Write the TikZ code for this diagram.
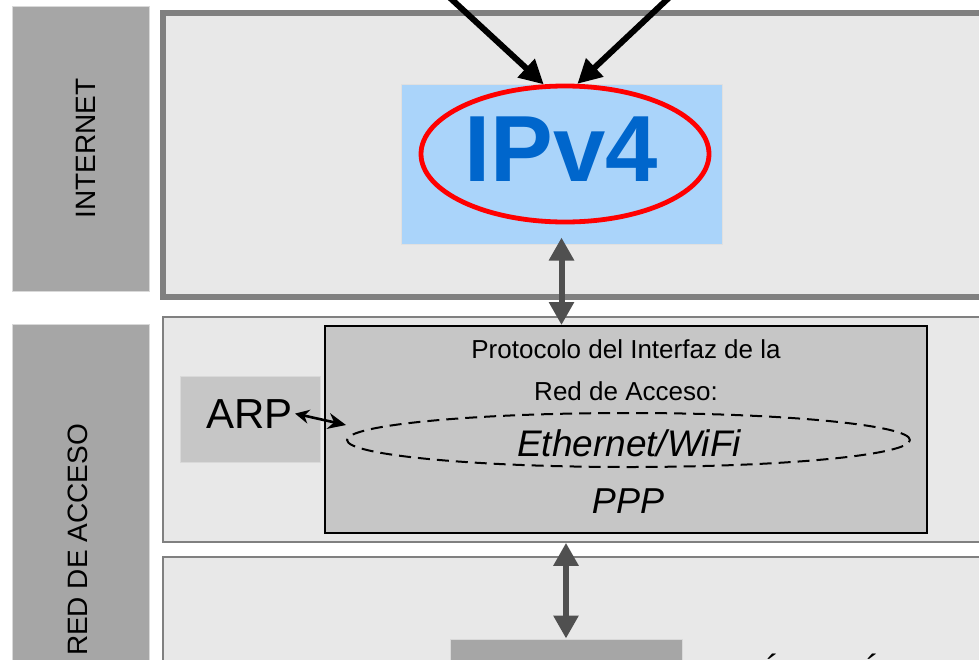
\documentclass[tikz,border=0pt]{standalone}
\usepackage{fontspec}
\setmainfont{Liberation Sans}
\usetikzlibrary{arrows.meta}
\usetikzlibrary{shapes.geometric}
\definecolor{labgray}{HTML}{A6A6A6}
\definecolor{bglight}{HTML}{E8E8E8}
\definecolor{edgegray}{HTML}{808080}
\definecolor{protgray}{HTML}{C6C6C6}
\definecolor{ipblue}{HTML}{AAD4FA}
\definecolor{iptext}{HTML}{0066CC}
\definecolor{arrgray}{HTML}{505050}

\begin{document}
\begin{tikzpicture}[x=0.5pt,y=-0.5pt,>=Stealth,
  sidelab/.style={draw=black!15, line width=0.5pt, fill=labgray, rotate=90, minimum height=68.5pt, inner sep=0pt, font=\fontsize{14}{16}\selectfont},
  layerbox/.style={draw=edgegray, fill=bglight, inner sep=0pt, minimum width=418.5pt},
  bigdbl/.style={{Triangle[length=11.5pt,width=12pt]}-{Triangle[length=11.5pt,width=12pt]}, draw=arrgray, line width=3pt},
  inarrow/.style={-{Triangle[length=12pt,width=12pt]}, line width=3pt},
  arparrow/.style={{Stealth[length=7pt,width=7pt]}-{Stealth[length=9pt,width=8pt]}, line width=1.3pt},]
\useasboundingbox (0,0) rectangle (979,659);
\clip (0,0) rectangle (979,659);
\node[sidelab, minimum width=142.5pt, text height=15pt] (labnet) at (80.5,148.5) {INTERNET};
\node[sidelab, minimum width=216pt, text depth=3pt] (labacc) at (80.5,540) {RED DE ACCESO};
\node[layerbox, line width=3pt, minimum width=418.75pt, minimum height=142pt] (netlayer) at (581.25,155) {};
\node[layerbox, line width=0.8pt, minimum height=112.5pt] (acclayer) at (581.5,429.5) {};
\node[layerbox, line width=0.8pt, minimum height=121.5pt] (phylayer) at (581.5,678.5) {};
\node[draw=black!12, line width=0.5pt, fill=ipblue, minimum width=160.5pt, minimum height=80pt, inner sep=0pt] (ipbox) at (561.5,164) {};
\node[ellipse, draw=red, line width=2.4pt, minimum width=144pt, minimum height=68pt, inner sep=0pt] (ipell) at (565,154) {};
\node[text=iptext, font=\bfseries\fontsize{47}{47}\selectfont, inner sep=0pt] (ipname) at (561.5,149.5) {IPv4};
\node[draw=black, line width=1pt, fill=protgray, minimum width=301pt, minimum height=103.5pt, inner sep=0pt] (protbox) at (626,429.5) {};
\node[anchor=base, font=\fontsize{13}{15}\selectfont] (proto1) at (626,358) {Protocolo del Interfaz de la};
\node[anchor=base, font=\fontsize{13}{15}\selectfont] (proto2) at (626,400) {Red de Acceso:};
\node[ellipse, draw, dash pattern=on 6pt off 3.5pt, line width=1pt, minimum width=281.5pt, minimum height=27pt, inner sep=0pt] (ethell) at (628.5,440) {};
\node[anchor=base, font=\itshape\fontsize{18.5}{20}\selectfont] (ethname) at (629,456) {Ethernet/WiFi};
\node[anchor=base, font=\itshape\fontsize{18}{20}\selectfont] (pppname) at (628,513) {PPP};
\node[draw=black!15, line width=0.5pt, fill=protgray, minimum width=70pt, minimum height=43pt, inner sep=0pt] (arpbox) at (250.5,419) {};
\node[anchor=base, inner sep=1pt, font=\fontsize{21}{23}\selectfont] (arp) at (249.5,428) {ARP};
\node[draw=black!15, line width=0.5pt, fill=labgray, minimum width=116pt, minimum height=61pt, inner sep=0pt] (physbox) at (566,700) {};
\node[anchor=base, font=\itshape\fontsize{18}{20}\selectfont] (acute1) at (768,680) {á};
\node[anchor=base, font=\itshape\fontsize{18}{20}\selectfont] (acute2) at (868,680) {á};
\coordinate (upl) at (409,-40);
\coordinate (upr) at (709,-40);
\draw[inarrow] (upl) -- (ipell.107);
\draw[inarrow] (upr) -- (ipell.80);
\draw[bigdbl] ([yshift=3.5pt]ipbox.south) -- (protbox.north -| ipbox.south);
\draw[bigdbl] (acclayer.south -| physbox.north) -- (physbox.north);
\draw[arparrow] (arp.east) -- ([yshift=7.5pt]ethell.west);
\end{tikzpicture}
\end{document}
